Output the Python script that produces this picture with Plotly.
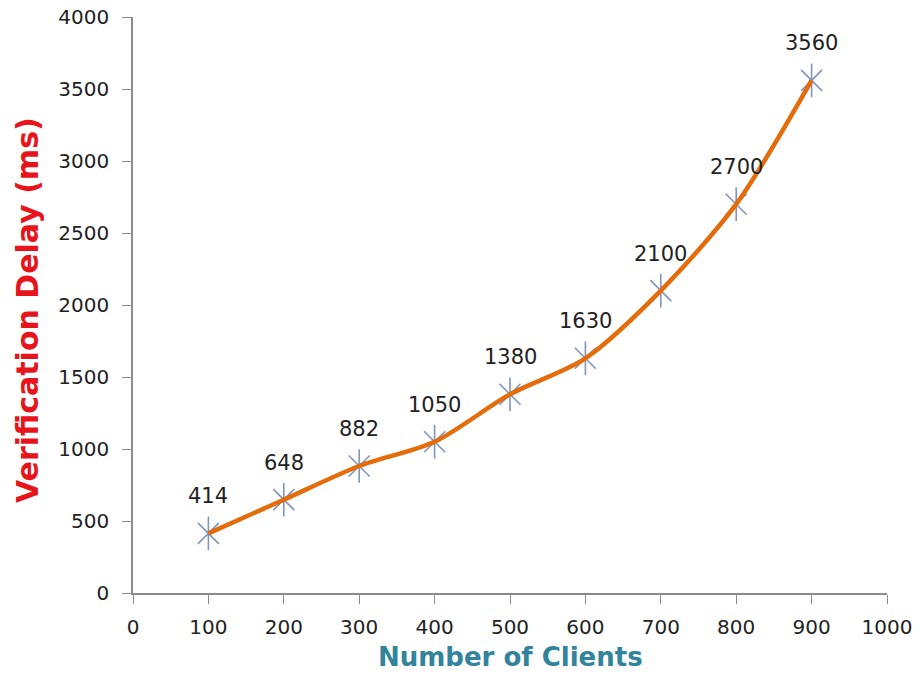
import plotly.graph_objects as go

clients = [100, 200, 300, 400, 500, 600, 700, 800, 900]
delay = [414, 648, 882, 1050, 1380, 1630, 2100, 2700, 3560]
labels = [str(v) for v in delay]
x_ticks = list(range(0, 1001, 100))
y_ticks = list(range(0, 4001, 500))

MK = "#7f95c0"
fig = go.Figure()
fig.add_trace(go.Scatter(
    x=clients, y=delay, mode="markers",
    marker=dict(symbol="x-thin-open", size=21, color=MK, line=dict(color=MK, width=1.6)),
    hoverinfo="skip", showlegend=False))
fig.add_trace(go.Scatter(
    x=clients, y=delay, mode="markers",
    marker=dict(symbol="line-ns-open", size=24, color=MK, line=dict(color=MK, width=1.6)),
    hoverinfo="skip", showlegend=False))
fig.add_trace(go.Scatter(
    x=clients, y=delay, mode="lines",
    line=dict(color="#e46c0a", width=4.5, shape="spline", smoothing=0.8),
    hoverinfo="skip", showlegend=False))

for xv, yv, t in zip(clients, delay, labels):
    fig.add_annotation(x=xv, y=yv, text=t, showarrow=False, yshift=37,
                       font=dict(family="DejaVu Sans", size=21, color="#222222"))

axis_common = dict(showgrid=False, zeroline=False, showline=True, linecolor="#8c8c8c",
                   linewidth=1.5, ticks="outside", ticklen=9, tickcolor="#8c8c8c",
                   tickfont=dict(family="DejaVu Sans", size=20, color="#222222"))

fig.update_xaxes(range=[0, 1000], tickvals=x_ticks, ticklabelstandoff=6, **axis_common)
fig.update_yaxes(range=[0, 4000], tickvals=y_ticks, ticklabelstandoff=9, **axis_common)

fig.add_annotation(xref="paper", yref="paper", x=(510 - 133) / 754, y=(593 - 657) / 576,
                   text="<b>Number of Clients</b>", showarrow=False,
                   xanchor="center", yanchor="middle",
                   font=dict(family="DejaVu Sans", size=26, color="#31849b"))
fig.add_annotation(xref="paper", yref="paper", x=(27 - 133) / 754, y=(593 - 310) / 576,
                   text="<b>Verification Delay (ms)</b>", showarrow=False, textangle=-90,
                   xanchor="center", yanchor="middle",
                   font=dict(family="DejaVu Sans", size=30, color="#e8141c"))

fig.update_layout(width=920, height=692,
                  margin=dict(l=133, r=33, t=17, b=99, autoexpand=False),
                  plot_bgcolor="white", paper_bgcolor="white")

fig.write_html("out.html")
